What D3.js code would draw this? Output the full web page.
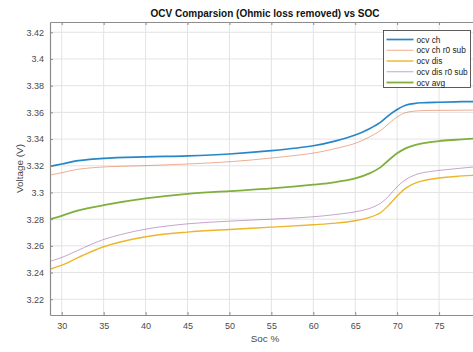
<!DOCTYPE html>
<html>
<head>
<meta charset="utf-8">
<script src="https://cdn.jsdelivr.net/npm/d3@7/dist/d3.min.js"></script>
<style>
  html, body { margin: 0; padding: 0; background: #fff; }
  svg { display: block; font-family: "Liberation Sans", Arial, Helvetica, sans-serif; }
</style>
</head>
<body>
<svg id="chart" width="473" height="352"></svg>
<script>
// State of charge samples (%)
const soc = [28.6, 30, 32, 35, 40, 45, 50, 55, 60, 62.7, 65, 66.7, 68, 69, 70, 71, 72, 73, 75, 77, 79, 80];

// Open-circuit voltage series (V)
const ocvCh     = [3.3196, 3.3213, 3.3238, 3.3256, 3.3267, 3.3274, 3.3288, 3.3313, 3.3350, 3.3387, 3.3430, 3.3478, 3.3525, 3.3578, 3.3622, 3.3653, 3.3666, 3.3672, 3.3676, 3.3679, 3.3681, 3.3682];
const ocvChR0   = [3.3130, 3.3148, 3.3174, 3.3191, 3.3201, 3.3213, 3.3230, 3.3258, 3.3295, 3.3330, 3.3368, 3.3416, 3.3463, 3.3516, 3.3566, 3.3598, 3.3609, 3.3613, 3.3615, 3.3616, 3.3617, 3.3617];
const ocvDis    = [3.2425, 3.2455, 3.2513, 3.2593, 3.2668, 3.2703, 3.2723, 3.2740, 3.2758, 3.2770, 3.2788, 3.2813, 3.2848, 3.2905, 3.2973, 3.3031, 3.3066, 3.3087, 3.3108, 3.3120, 3.3128, 3.3131];
const ocvDisR0  = [3.2485, 3.2513, 3.2568, 3.2648, 3.2725, 3.2765, 3.2785, 3.2800, 3.2818, 3.2835, 3.2855, 3.2880, 3.2918, 3.2973, 3.3043, 3.3096, 3.3128, 3.3147, 3.3165, 3.3178, 3.3190, 3.3194];
const ocvAvg    = [3.2800, 3.2825, 3.2866, 3.2905, 3.2955, 3.2990, 3.3010, 3.3030, 3.3058, 3.3078, 3.3105, 3.3143, 3.3188, 3.3243, 3.3293, 3.3330, 3.3353, 3.3367, 3.3385, 3.3395, 3.3403, 3.3406];

const seriesNames = ["ocv ch", "ocv ch r0 sub", "ocv dis", "ocv dis r0 sub", "ocv avg"];
const xTicks = [30, 35, 40, 45, 50, 55, 60, 65, 70, 75];
const yTicks = [3.22, 3.24, 3.26, 3.28, 3.3, 3.32, 3.34, 3.36, 3.38, 3.4, 3.42];

const series = [
  { name: seriesNames[0], values: ocvCh,    color: "#0072BD", width: 1.7, opacity: 0.85 },
  { name: seriesNames[1], values: ocvChR0,  color: "#D95319", width: 0.8, opacity: 0.6 },
  { name: seriesNames[2], values: ocvDis,   color: "#EDB120", width: 1.4, opacity: 0.95 },
  { name: seriesNames[3], values: ocvDisR0, color: "#7E2F8E", width: 0.8, opacity: 0.55 },
  { name: seriesNames[4], values: ocvAvg,   color: "#77AC30", width: 1.8, opacity: 0.95 }
];

const svg = d3.select("#chart");
const plotL = 50, plotT = 22, plotR = 481, plotB = 315;

const x = d3.scaleLinear().domain([28.6, 80]).range([plotL, plotR]);
const y = d3.scaleLinear().domain([3.2082, 3.4277]).range([plotB, plotT]);

// grid
const grid = svg.append("g");
grid.selectAll("line.vx").data(xTicks).join("line")
  .attr("x1", d => x(d)).attr("x2", d => x(d))
  .attr("y1", plotT).attr("y2", plotB)
  .attr("stroke", "#e3e3e3").attr("stroke-width", 1);
grid.selectAll("line.hy").data(yTicks).join("line")
  .attr("x1", plotL).attr("x2", plotR)
  .attr("y1", d => y(d)).attr("y2", d => y(d))
  .attr("stroke", "#e3e3e3").attr("stroke-width", 1);

// curves
svg.append("clipPath").attr("id", "plot-clip")
  .append("rect").attr("x", plotL).attr("y", plotT).attr("width", plotR - plotL).attr("height", plotB - plotT);

const line = d3.line().x((d, i) => x(soc[i])).y(d => y(d)).curve(d3.curveCatmullRom.alpha(0.5));
svg.append("g").attr("clip-path", "url(#plot-clip)")
  .selectAll("path").data(series).join("path")
  .attr("d", d => line(d.values))
  .attr("fill", "none")
  .attr("stroke", d => d.color)
  .attr("stroke-width", d => d.width)
  .attr("stroke-opacity", d => d.opacity)
  .attr("stroke-linejoin", "round");

// axes (ticks point inward)
const axisColor = "#8c8c8c";
const xAxis = svg.append("g").attr("transform", `translate(0,${plotB})`)
  .call(d3.axisBottom(x).tickValues(xTicks).tickSizeInner(-3).tickSizeOuter(0).tickPadding(8).tickFormat(d3.format("d")));
const xAxisTop = svg.append("g").attr("transform", `translate(0,${plotT})`)
  .call(d3.axisTop(x).tickValues(xTicks).tickSizeInner(-3).tickSizeOuter(0).tickFormat(""));
const yAxis = svg.append("g").attr("transform", `translate(${plotL},0)`)
  .call(d3.axisLeft(y).tickValues(yTicks).tickSizeInner(-3).tickSizeOuter(0).tickPadding(6).tickFormat(d => String(+d.toFixed(2))));

[xAxis, xAxisTop, yAxis].forEach(g => {
  g.select(".domain").attr("stroke", axisColor).attr("stroke-width", 1.2);
  g.selectAll(".tick line").attr("stroke", axisColor);
  g.selectAll(".tick text").attr("fill", "#4a4a4a").attr("font-size", 9).attr("font-family", "Liberation Sans, Arial, sans-serif");
});

// title and labels
svg.append("text").attr("x", 265).attr("y", 17).attr("text-anchor", "middle")
  .attr("font-size", 10).attr("font-weight", "bold").attr("fill", "#111")
  .text("OCV Comparsion (Ohmic loss removed) vs SOC");
svg.append("text").attr("x", 265).attr("y", 342).attr("text-anchor", "middle")
  .attr("font-size", 9.9).attr("fill", "#4a4a4a").text("Soc %");
svg.append("text").attr("transform", `translate(23,${(plotT + plotB) / 2}) rotate(-90)`)
  .attr("text-anchor", "middle").attr("font-size", 9.9).attr("fill", "#4a4a4a").text("Voltage (V)");

// legend
const lg = svg.append("g").attr("transform", "translate(383.5,30.5)");
lg.append("rect").attr("width", 87).attr("height", 57)
  .attr("fill", "#fff").attr("stroke", "#333").attr("stroke-width", 0.8);
const items = lg.selectAll("g.item").data(series).join("g")
  .attr("transform", (d, i) => `translate(0,${9 + i * 10.75})`);
items.append("line").attr("x1", 3).attr("x2", 30).attr("y1", 0).attr("y2", 0)
  .attr("stroke", d => d.color).attr("stroke-width", d => d.width).attr("stroke-opacity", d => d.opacity);
items.append("text").attr("x", 33).attr("y", 3).attr("font-size", 8.3).attr("fill", "#222").text(d => d.name);
</script>
</body>
</html>
